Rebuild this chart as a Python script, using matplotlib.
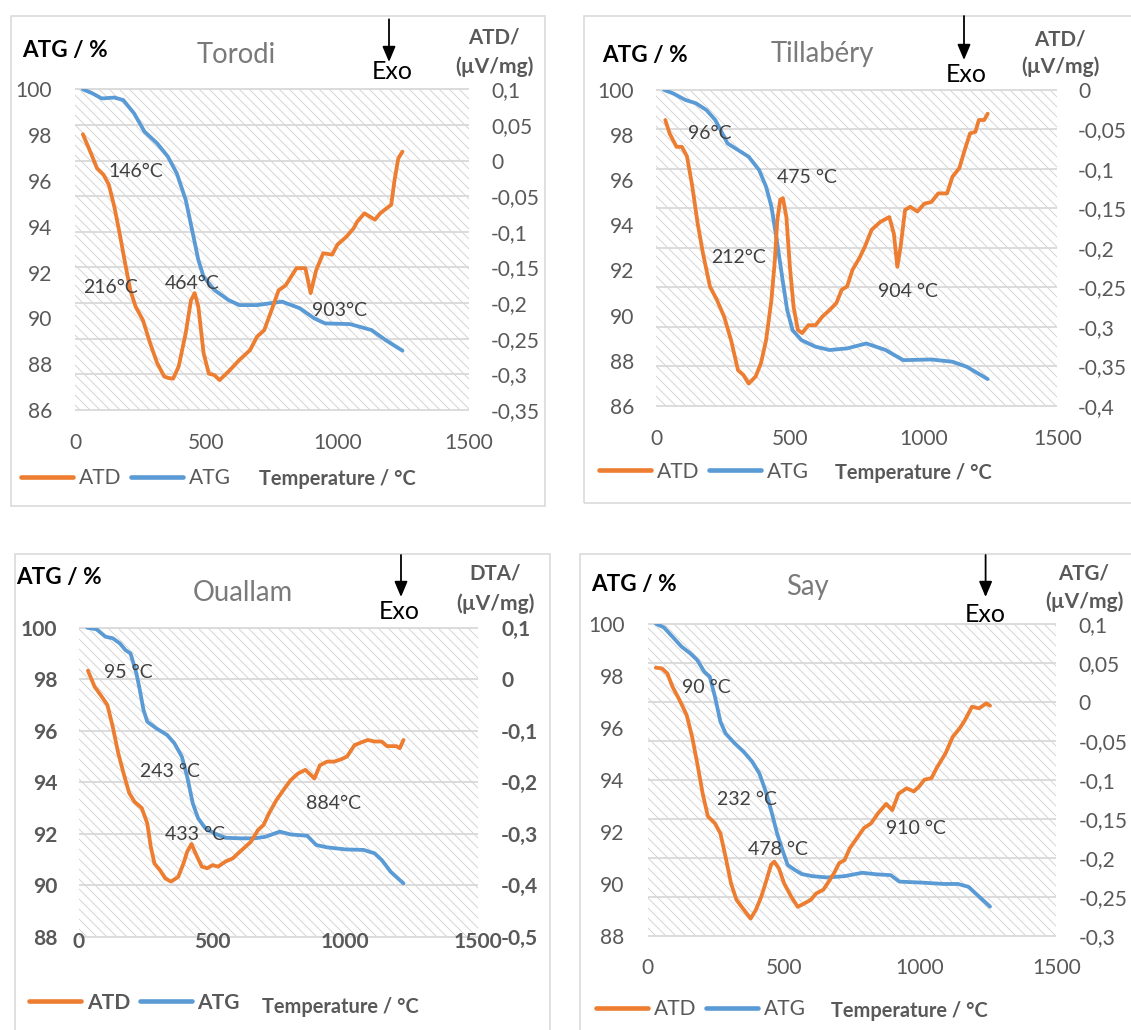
import matplotlib
matplotlib.use("Agg")
import matplotlib.pyplot as plt
from matplotlib.patches import Rectangle, FancyArrowPatch

W, H, DPI = 1131, 1030, 120
PT = 72.0 / DPI  # points per pixel

plt.rcParams["font.family"] = ["Lato", "DejaVu Sans"]
plt.rcParams["hatch.linewidth"] = 0.9 * PT
plt.rcParams["hatch.color"] = "#d2d2d2"

ORANGE = "#ED7D31"
BLUE = "#5B9BD5"
GRID = "#D9D9D9"
HATCH = "#d2d2d2"
FRAME = "#D9D9D9"
TICK_C = "#595959"
NOTE_C = "#404040"
TITLE_C = "#7A7A7A"

X_LIM = (0, 1500)
X_TICKS = [0, 500, 1000, 1500]
X_TICKLABELS = ["0", "500", "1000", "1500"]

# ---------------- Torodi ----------------
torodi_atg_t = [30, 65, 102, 150, 184, 225, 265, 313, 354, 388, 422, 449, 470,
                490, 531, 585, 626, 694, 789, 857, 912, 953, 1048, 1130, 1184, 1248]
torodi_atg = [100, 99.83, 99.6, 99.64, 99.53, 98.95, 98.15, 97.64, 97.06, 96.33,
              95.17, 93.71, 92.55, 91.82, 91.24, 90.8, 90.58, 90.58, 90.73, 90.44,
              90.0, 89.78, 89.75, 89.49, 89.05, 88.59]
torodi_atd_t = [30, 61, 84, 109, 129, 150, 170, 191, 211, 231, 259, 286, 313, 340,
                355, 374, 395, 422, 442, 456, 470, 490, 510, 531, 551, 585, 626, 667,
                694, 721, 749, 776, 803, 844, 878, 898, 919, 946, 980, 1000, 1034,
                1062, 1075, 1103, 1143, 1163, 1205, 1218, 1232, 1248]
torodi_atd = [0.037, 0.010, -0.011, -0.020, -0.034, -0.065, -0.102, -0.144, -0.182,
              -0.205, -0.224, -0.256, -0.284, -0.303, -0.305, -0.306, -0.289, -0.242,
              -0.196, -0.186, -0.205, -0.270, -0.299, -0.301, -0.308, -0.296, -0.280,
              -0.266, -0.247, -0.238, -0.210, -0.182, -0.175, -0.151, -0.151, -0.186,
              -0.154, -0.130, -0.132, -0.118, -0.107, -0.095, -0.086, -0.074, -0.083,
              -0.074, -0.062, -0.027, 0.003, 0.0125]
torodi_atg_ticks = [86, 88, 90, 92, 94, 96, 98, 100]
torodi_atd_ticks = [0.1, 0.05, 0, -0.05, -0.1, -0.15, -0.2, -0.25, -0.3, -0.35]
torodi_atd_ticklabels = ["0,1", "0,05", "0", "-0,05", "-0,1", "-0,15", "-0,2",
                         "-0,25", "-0,3", "-0,35"]
torodi_notes = ["146°C", "216°C", "464°C", "903°C"]

# ---------------- Tillabéry ----------------
tillabery_atg_t = [30, 63, 109, 149, 188, 221, 247, 267, 306, 346, 385, 411, 431, 451,
                   471, 490, 510, 543, 595, 648, 714, 786, 858, 924, 1029, 1108, 1161, 1240]
tillabery_atg = [100, 99.85, 99.56, 99.41, 99.11, 98.67, 98.08, 97.63, 97.34, 97.04,
                 96.45, 95.71, 94.83, 93.35, 91.72, 90.24, 89.35, 88.91, 88.62, 88.47,
                 88.54, 88.76, 88.47, 88.02, 88.05, 87.95, 87.73, 87.18]
tillabery_atd_t = [34, 50, 76, 96, 115, 135, 155, 175, 201, 227, 254, 280, 306, 326,
                   346, 372, 392, 411, 431, 444, 453, 464, 474, 487, 500, 514, 530, 546,
                   569, 596, 622, 648, 674, 694, 714, 734, 760, 780, 806, 839, 872, 889,
                   902, 914, 931, 950, 977, 1003, 1029, 1055, 1088, 1108, 1134, 1154,
                   1174, 1194, 1207, 1227, 1240]
tillabery_atd = [-0.038, -0.055, -0.072, -0.072, -0.084, -0.122, -0.169, -0.207, -0.249,
                 -0.266, -0.287, -0.317, -0.355, -0.361, -0.372, -0.363, -0.346, -0.317,
                 -0.266, -0.215, -0.165, -0.139, -0.137, -0.161, -0.224, -0.275, -0.304,
                 -0.308, -0.298, -0.298, -0.287, -0.279, -0.270, -0.253, -0.249, -0.228,
                 -0.213, -0.199, -0.177, -0.167, -0.161, -0.182, -0.224, -0.199, -0.152,
                 -0.148, -0.154, -0.144, -0.142, -0.131, -0.131, -0.110, -0.099, -0.076,
                 -0.055, -0.053, -0.038, -0.038, -0.030]
tillabery_atg_ticks = [86, 88, 90, 92, 94, 96, 98, 100]
tillabery_atd_ticks = [0, -0.05, -0.1, -0.15, -0.2, -0.25, -0.3, -0.35, -0.4]
tillabery_atd_ticklabels = ["0", "-0,05", "-0,1", "-0,15", "-0,2", "-0,25", "-0,3",
                            "-0,35", "-0,4"]
tillabery_notes = ["96°C", "475 °C", "212°C", "904 °C"]

# ---------------- Ouallam ----------------
ouallam_atg_t = [31, 66, 100, 127, 154, 175, 194, 216, 229, 243, 257, 291, 332, 359,
                 387, 407, 428, 448, 475, 510, 551, 605, 660, 701, 755, 796, 858, 892,
                 933, 1001, 1070, 1111, 1138, 1172, 1220]
ouallam_atg = [100, 99.94, 99.65, 99.59, 99.39, 99.13, 99.0, 98.23, 97.58, 96.80,
               96.35, 96.09, 95.83, 95.51, 94.99, 94.21, 93.18, 92.60, 92.21, 92.01,
               91.84, 91.82, 91.82, 91.88, 92.08, 91.97, 91.92, 91.56, 91.47, 91.39,
               91.37, 91.24, 90.98, 90.52, 90.07]
ouallam_atd_t = [34, 59, 86, 107, 127, 148, 168, 189, 209, 236, 257, 270, 284, 305,
                 325, 346, 373, 393, 407, 423, 441, 462, 482, 503, 523, 551, 578, 605,
                 646, 673, 694, 714, 742, 769, 796, 824, 851, 872, 885, 906, 933, 960,
                 988, 1008, 1036, 1070, 1086, 1111, 1138, 1158, 1193, 1206, 1220]
ouallam_atd = [0.0165, -0.0146, -0.034, -0.050, -0.092, -0.144, -0.183, -0.221, -0.238,
               -0.250, -0.280, -0.325, -0.358, -0.371, -0.387, -0.393, -0.384, -0.358,
               -0.335, -0.320, -0.341, -0.364, -0.367, -0.361, -0.364, -0.354, -0.348,
               -0.335, -0.316, -0.293, -0.283, -0.261, -0.235, -0.215, -0.196, -0.183,
               -0.176, -0.186, -0.193, -0.167, -0.160, -0.160, -0.155, -0.150, -0.128,
               -0.121, -0.118, -0.121, -0.121, -0.130, -0.130, -0.134, -0.118]
ouallam_atg_ticks = [88, 90, 92, 94, 96, 98, 100]
ouallam_atd_ticks = [0.1, 0, -0.1, -0.2, -0.3, -0.4, -0.5]
ouallam_atd_ticklabels = ["0,1", "0", "-0,1", "-0,2", "-0,3", "-0,4", "-0,5"]
ouallam_notes = ["95 °C", "243 °C", "433 °C", "884°C"]

# ---------------- Say ----------------
say_atg_t = [30, 59, 91, 124, 156, 182, 208, 228, 247, 267, 286, 319, 352, 384, 410,
             436, 456, 475, 495, 514, 540, 566, 605, 658, 723, 788, 840, 892, 924, 1009,
             1087, 1139, 1178, 1217, 1257]
say_atg = [100, 99.86, 99.5, 99.12, 98.86, 98.60, 98.15, 97.96, 97.19, 96.23, 95.78,
           95.40, 95.08, 94.69, 94.24, 93.47, 92.71, 91.94, 91.29, 90.72, 90.53, 90.37,
           90.29, 90.24, 90.29, 90.42, 90.36, 90.33, 90.08, 90.04, 89.99, 89.99, 89.88,
           89.50, 89.12]
say_atd_t = [30, 52, 72, 91, 117, 143, 163, 182, 202, 221, 247, 267, 286, 306, 326,
             345, 358, 378, 397, 417, 436, 453, 465, 482, 501, 527, 551, 573, 599, 618,
             645, 664, 684, 703, 723, 742, 768, 794, 820, 846, 876, 898, 921, 951, 977,
             996, 1016, 1042, 1061, 1094, 1120, 1146, 1165, 1191, 1217, 1243, 1257]
say_atd = [0.0436, 0.0427, 0.0363, 0.0192, 0.0021, -0.0171, -0.0449, -0.079, -0.118,
           -0.147, -0.156, -0.169, -0.199, -0.233, -0.254, -0.263, -0.269, -0.278,
           -0.267, -0.250, -0.229, -0.209, -0.205, -0.214, -0.233, -0.250, -0.263,
           -0.259, -0.254, -0.246, -0.241, -0.231, -0.220, -0.207, -0.203, -0.188,
           -0.175, -0.162, -0.156, -0.143, -0.131, -0.139, -0.118, -0.111, -0.115,
           -0.109, -0.100, -0.098, -0.085, -0.066, -0.045, -0.034, -0.0235, -0.0064,
           -0.0085, -0.0021, -0.0051]
say_atg_ticks = [88, 90, 92, 94, 96, 98, 100]
say_atd_ticks = [0.1, 0.05, 0, -0.05, -0.1, -0.15, -0.2, -0.25, -0.3]
say_atd_ticklabels = ["0,1", "0,05", "0", "-0,05", "-0,1", "-0,15", "-0,2", "-0,25",
                      "-0,3"]
say_notes = ["90 °C", "232 °C", "478 °C", "910 °C"]

# Panel definitions: data plus page layout (pixel positions, top-left origin)
PANELS = [
    dict(title="Torodi", atg_t=torodi_atg_t, atg=torodi_atg,
         atd_t=torodi_atd_t, atd=torodi_atd,
         atg_ticks=torodi_atg_ticks, atd_ticks=torodi_atd_ticks,
         atd_ticklabels=torodi_atd_ticklabels, right_title="ATD/",
         notes=torodi_notes,
         note_xy=[(230, 96.19), (136, 91.09), (445, 91.30), (1007, 90.10)],
         plot=(75.0, 89.3, 468.6, 410.0), frame=(10.7, 16, 545, 506),
         title_xy=(236.6, 63.3), ylab_xy=(22, 57.3), exo_xy=(392, 79.3),
         arrow=(389, 19.3, 62), rlab_xy=(494, 43.3, 72.7),
         pad_l=23, pad_r=22.4, xlab_base=449, legend_xy=(21, 478.3),
         temp_xy=(259, 485), bold=False),
    dict(title="Tillabéry", atg_t=tillabery_atg_t, atg=tillabery_atg,
         atd_t=tillabery_atd_t, atd=tillabery_atd,
         atg_ticks=tillabery_atg_ticks, atd_ticks=tillabery_atd_ticks,
         atd_ticklabels=tillabery_atd_ticklabels, right_title="ATD/",
         notes=tillabery_notes,
         note_xy=[(201, 97.81), (565, 95.86), (309, 92.34), (940, 90.83)],
         plot=(656.2, 90.0, 1057.2, 405.7), frame=(583.5, 16, 1145, 503),
         title_xy=(822, 61.7), ylab_xy=(602, 61.7), exo_xy=(966, 81.7),
         arrow=(964, 16, 60), rlab_xy=(1060, 45, 73.3),
         pad_l=22, pad_r=21, xlab_base=445, legend_xy=(599, 471.7),
         temp_xy=(835, 479), bold=False),
    dict(title="Ouallam", atg_t=ouallam_atg_t, atg=ouallam_atg,
         atd_t=ouallam_atd_t, atd=ouallam_atd,
         atg_ticks=ouallam_atg_ticks, atd_ticks=ouallam_atd_ticks,
         atd_ticklabels=ouallam_atd_ticklabels, right_title="DTA/",
         notes=ouallam_notes,
         note_xy=[(184, 98.06), (342, 94.21), (437, 91.75), (956, 92.94)],
         plot=(78.9, 627.7, 478.0, 936.7), frame=(14.5, 554, 550, 1045),
         title_xy=(242.6, 601), ylab_xy=(16, 584.3), exo_xy=(399.6, 619.3),
         arrow=(401, 555, 597), rlab_xy=(495, 580, 610),
         pad_l=21.5, pad_r=23, xlab_base=948.3, legend_xy=(29, 1002.7),
         temp_xy=(262, 1012.7), bold=True),
    dict(title="Say", atg_t=say_atg_t, atg=say_atg,
         atd_t=say_atd_t, atd=say_atd,
         atg_ticks=say_atg_ticks, atd_ticks=say_atd_ticks,
         atd_ticklabels=say_atd_ticklabels, right_title="ATG/",
         notes=say_notes,
         note_xy=[(217, 97.32), (365, 93.03), (479, 91.10), (986, 91.91)],
         plot=(647.7, 623.7, 1056.2, 935.7), frame=(580, 554, 1145, 1045),
         title_xy=(807, 595), ylab_xy=(591, 590.7), exo_xy=(985.5, 621.7),
         arrow=(985.6, 555, 597), rlab_xy=(1084, 580, 608),
         pad_l=23, pad_r=22.3, xlab_base=974, legend_xy=(596, 1009.3),
         temp_xy=(831, 1017), bold=False),
]

LINE_W = 3.8 * PT

fig = plt.figure(figsize=(W / DPI, H / DPI), dpi=DPI)
fig.patch.set_facecolor("white")


def fx(x):
    return x / W


def fy(y):
    return 1 - y / H


def draw_panel(p):
    L, T, R, B = p["plot"]
    rect = [fx(L), fy(B), (R - L) / W, (B - T) / H]
    weight = "bold" if p["bold"] else "normal"

    # outer chart frame
    x0, y0, x1, y1 = p["frame"]
    fig.add_artist(Rectangle((fx(x0), fy(y1)), (x1 - x0) / W, (y1 - y0) / H,
                             transform=fig.transFigure, fill=False,
                             edgecolor=FRAME, lw=1.6 * PT, zorder=0))

    atd_lim = (min(p["atd_ticks"]), max(p["atd_ticks"]))
    atg_lim = (min(p["atg_ticks"]), max(p["atg_ticks"]))

    # background: hatched plot area and gridlines on the secondary scale
    bg = fig.add_axes(rect, zorder=1)
    bg.set_xlim(*X_LIM)
    bg.set_ylim(*atd_lim)
    bg.add_patch(Rectangle((0, 0), 1, 1, transform=bg.transAxes,
                           facecolor="white", edgecolor=HATCH, lw=0,
                           hatch="\\\\\\\\"))
    bg.hlines(p["atd_ticks"], 0, 1, transform=bg.get_yaxis_transform(),
              colors=GRID, lw=1.8 * PT, clip_on=False)
    bg.axis("off")

    # primary axis: ATG (%)
    ax = fig.add_axes(rect, zorder=2)
    ax.patch.set_visible(False)
    l_atg, = ax.plot(p["atg_t"], p["atg"], color=BLUE, lw=LINE_W,
                     solid_capstyle="round", solid_joinstyle="round")
    ax.set_xlim(*X_LIM)
    ax.set_ylim(*atg_lim)
    ax.set_xticks(X_TICKS)
    ax.set_xticklabels(X_TICKLABELS)
    ax.set_yticks(p["atg_ticks"])
    ax.set_yticklabels([str(v) for v in p["atg_ticks"]])
    ax.tick_params(axis="both", length=0, labelsize=21 * PT, labelcolor=TICK_C)
    ax.tick_params(axis="y", pad=p["pad_l"] * PT)
    ax.tick_params(axis="x", pad=(p["xlab_base"] - B) * PT)
    for lbl in ax.get_xticklabels():
        lbl.set_verticalalignment("baseline")
        lbl.set_fontweight(weight)
    for lbl in ax.get_yticklabels():
        lbl.set_fontweight(weight)
    for s in ax.spines.values():
        s.set_visible(False)

    # secondary axis: ATD (µV/mg)
    ax2 = ax.twinx()
    ax2.set_zorder(3)
    ax2.patch.set_visible(False)
    l_atd, = ax2.plot(p["atd_t"], p["atd"], color=ORANGE, lw=LINE_W,
                      solid_capstyle="round", solid_joinstyle="round")
    ax2.set_ylim(*atd_lim)
    ax2.set_yticks(p["atd_ticks"])
    ax2.set_yticklabels(p["atd_ticklabels"])
    ax2.tick_params(axis="y", length=0, labelsize=21 * PT, labelcolor=TICK_C,
                    pad=p["pad_r"] * PT)
    for lbl in ax2.get_yticklabels():
        lbl.set_fontweight(weight)
    for s in ax2.spines.values():
        s.set_visible(False)

    # peak temperature notes
    for txt, (tx, ty) in zip(p["notes"], p["note_xy"]):
        ax2.text(tx, ty, txt, transform=ax.transData, ha="center",
                 va="baseline", fontsize=19.5 * PT, color=NOTE_C, zorder=5)

    # titles and axis captions
    fig.text(fx(p["title_xy"][0]), fy(p["title_xy"][1]), p["title"],
             ha="center", va="baseline", fontsize=27.5 * PT, color=TITLE_C)
    fig.text(fx(p["ylab_xy"][0]), fy(p["ylab_xy"][1]), "ATG / %",
             ha="left", va="baseline", fontsize=22.5 * PT, fontweight="bold",
             color="black")
    rx, ry1, ry2 = p["rlab_xy"]
    fig.text(fx(rx), fy(ry1), p["right_title"], ha="center", va="baseline",
             fontsize=20.5 * PT, fontweight="bold", color=TICK_C)
    fig.text(fx(rx), fy(ry2), "(µV/mg)", ha="center", va="baseline",
             fontsize=21 * PT, fontweight="bold", color=TICK_C)

    # Exo marker
    axx, ay0, ay1 = p["arrow"]
    fig.add_artist(FancyArrowPatch(
        (fx(axx), fy(ay0)), (fx(axx), fy(ay1)), transform=fig.transFigure,
        arrowstyle=f"-|>,head_length={13 * PT},head_width={5.5 * PT}",
        mutation_scale=1, color="black", lw=1.8 * PT, shrinkA=0, shrinkB=0))
    fig.text(fx(p["exo_xy"][0]), fy(p["exo_xy"][1]), "Exo", ha="center",
             va="baseline", fontsize=25 * PT, color="black")

    # legend and x-axis caption
    lx, ly = p["legend_xy"]
    leg = ax.legend([l_atd, l_atg], ["ATD", "ATG"], loc="center left",
                    bbox_to_anchor=(fx(lx), fy(ly)), bbox_transform=fig.transFigure,
                    ncol=2, frameon=False, borderpad=0, borderaxespad=0,
                    handlelength=52 / 21, handletextpad=0.28, columnspacing=0.45,
                    prop=dict(size=21 * PT, weight=weight), labelcolor=TICK_C)
    for h in leg.get_lines():
        h.set_linewidth(4.6 * PT)
    fig.text(fx(p["temp_xy"][0]), fy(p["temp_xy"][1]), "Temperature / °C",
             ha="left", va="baseline", fontsize=20 * PT, fontweight="bold",
             color=TICK_C)


for panel in PANELS:
    draw_panel(panel)

fig.savefig("out.png", dpi=DPI, facecolor="white")
